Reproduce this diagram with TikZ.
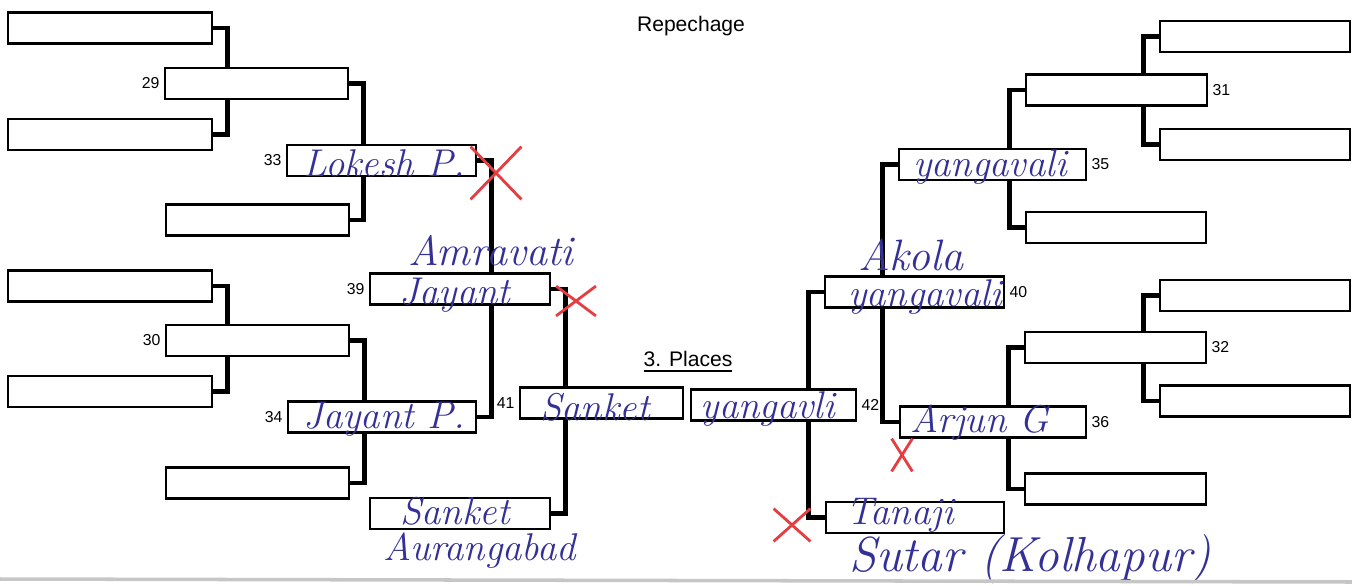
\documentclass[tikz,border=0pt]{standalone}
\usepackage{fontspec}
\setsansfont{Liberation Sans}
\usetikzlibrary{backgrounds,shapes.misc}
\definecolor{ink}{RGB}{52,48,150}
\definecolor{redpen}{RGB}{228,62,66}
\tikzset{
  box/.style={draw, fill=white, line width=0.75pt, inner sep=0pt, minimum height=0.31cm},
  link/.style={line width=1.3pt},
  num/.style={font=\sffamily\fontsize{4.5}{5}\selectfont, inner sep=1pt},
  head/.style={font=\sffamily\fontsize{6}{7}\selectfont},
  hand/.style={text=ink, font=\itshape\fontsize{11}{11}\selectfont, inner sep=0pt},
  redx/.style={draw=redpen, cross out, line width=0.8pt, inner sep=0pt}
}
\begin{document}
\begin{tikzpicture}[x=0.01cm, y=-0.01cm]
\useasboundingbox (0,0) rectangle (1352,585);
\foreach \n/\x/\y/\w in {a1/110/28/204, a2/110/134.5/204, a3/110/286/204, a4/110/391.5/204,
    b29/256.5/83.5/183, b29x/257.5/220/183, b30/257.5/340.5/183, b30x/257.5/483/183,
    b33/381.5/160.5/189, b34/382/417/188, b39/460/289/180, b39x/460/513.5/180, b41/601.5/403/163,
    b42/773.5/405/165, b40/914.5/292/179, b40x/915/517.5/178, b35/992.5/164.5/187, b36/993/422/186,
    b31/1116.5/90/181, b31x/1116/227.5/180, b32/1115.5/347.5/181, b32x/1115.5/489/181,
    c1/1255/36.5/190, c2/1255/144.5/190, c3/1255/295.5/190, c4/1255/401/190}
  \node[box, minimum width=\w*0.01cm] (\n) at (\x,\y) {};
\begin{scope}[on background layer]
  \foreach \p/\q in {a1/a2, a3/a4, b29/b29x, b30/b30x, b33/b34, b39/b39x}
    \draw[link] (\p.east) -- ++(14,0) |- (\q.east);
  \foreach \p/\q in {c1/c2, c3/c4, b31/b31x, b32/b32x, b35/b36, b40/b40x}
    \draw[link] (\p.west) -- ++(-15,0) |- (\q.west);
\end{scope}
\foreach \n/\t in {b29/29, b30/30, b33/33, b34/34, b39/39, b41/41}
  \node[num, left] (l\t) at (\n.west) {\t};
\foreach \n/\t in {b31/31, b32/32, b35/35, b36/36, b40/40, b42/42}
  \node[num, right] (l\t) at (\n.east) {\t};
\node[head] (rep) at (691,26) {Repechage};
\node[head] (places) at (688,362) {\underline{3. Places}};
\node[hand] (h33) at (384,163) {Lokesh P.};
\node[hand, font=\itshape\fontsize{12}{12}\selectfont] (h39t) at (491,251) {Amravati};
\node[hand] (h39) at (455,295) {Jayant};
\node[hand] (h34) at (384,419) {Jayant P.};
\node[hand] (h41) at (595,407) {Sanket};
\node[hand] (h39x) at (455,511) {Sanket};
\node[hand] (h39b) at (480,551) {Aurangabad};
\node[hand] (h42) at (768,409) {yangavli};
\node[hand, font=\itshape\fontsize{12.5}{12.5}\selectfont] (h40t) at (911,255) {Akola};
\node[hand] (h40) at (925,297) {yangavali};
\node[hand] (h35) at (990,167) {yangavali};
\node[hand] (h36) at (980,423) {Arjun G};
\node[hand] (h40x) at (900,515) {Tanaji};
\node[hand, font=\itshape\fontsize{14}{14}\selectfont] (h40b) at (1030,559) {Sutar (Kolhapur)};
\foreach \n/\x/\y/\w/\h in {x1/496/173/48/50, x2/576/301/37/27, x3/902/455/18/30, x4/792/525/34/30}
  \node[redx, minimum width=\w*0.01cm, minimum height=\h*0.01cm] (\n) at (\x,\y) {};
\draw[gray!45, line width=1pt] (0,579) -- (1352,582);
\end{tikzpicture}
\end{document}
